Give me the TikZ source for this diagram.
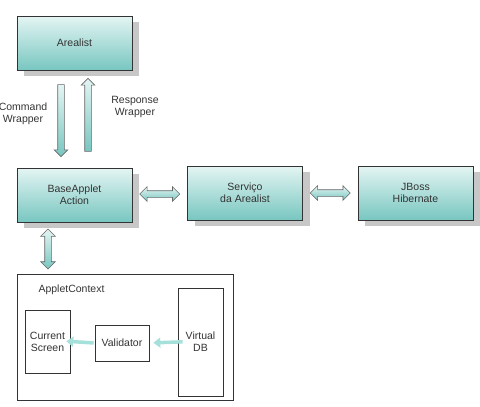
\documentclass[tikz,border=0pt]{standalone}
\usepackage{fontspec}
\setmainfont{Liberation Sans}
\usetikzlibrary{calc, shadows, shapes.arrows, arrows.meta}
\definecolor{boxtop}{HTML}{E4F5F3}
\definecolor{boxbot}{HTML}{78C6C0}
\definecolor{flowcyan}{HTML}{A6E0DB}
\definecolor{inkgray}{HTML}{333333}

\begin{document}
\begin{tikzpicture}[x=1pt, y=-1pt, font=\fontsize{10.5}{12}\selectfont, text=inkgray,
  unit/.style={draw=inkgray, line width=0.8pt, top color=boxtop, bottom color=boxbot,
    minimum width=115pt, minimum height=54pt, align=center,
    drop shadow={shadow xshift=7pt, shadow yshift=-6pt, fill=black!22, opacity=1}},
  plainbox/.style={draw=inkgray, line width=0.7pt, fill=white, align=center, inner sep=1pt},
  onearrow/.style={single arrow, draw=black!60, line width=0.6pt, top color=boxtop,
    bottom color=boxbot, inner sep=3pt, single arrow head extend=3.5pt,
    minimum height=#1},
  twoarrow/.style={double arrow, draw=black!60, line width=0.6pt, top color=boxtop,
    bottom color=boxbot, inner sep=3pt, double arrow head extend=4pt,
    minimum height=#1},
  flow/.style={flowcyan, line width=3.5pt, -{Triangle[width=10pt,length=7pt]}}]
  \useasboundingbox (0,0) rectangle (480,407);

  % top row and middle row
  \node[unit] (arealist) at (74.5,43) {Arealist};
  \node[unit] (base) at (74.5,195) {BaseApplet\\Action};
  \node[unit] (servico) at (245,193) {Serviço\\da Arealist};
  \node[unit] (jboss) at (415.5,193) {JBoss\\Hibernate};

  % wrappers between Arealist and the action
  \node[onearrow=72pt, shape border rotate=270] (cmd) at (61,119) {};
  \node[onearrow=73pt, shape border rotate=90] (resp) at (88,116.5) {};
  \node[align=center] at (23,114) {Command\\Wrapper};
  \node[align=center] at (135,107) {Response\\Wrapper};

  \node[twoarrow=40pt] at ($(base.east)!0.5!(servico.west)$) {};
  \node[twoarrow=40pt] at ($(servico.east)!0.5!(jboss.west)$) {};
  \node[twoarrow=40pt, shape border rotate=90] at (48,249) {};

  % applet context
  \node[draw=inkgray, line width=0.7pt, minimum width=216pt, minimum height=126pt] (context) at (125,337) {};
  \node[anchor=west] at (35,290) {AppletContext};
  \node[plainbox, minimum width=45pt, minimum height=63pt] (screen) at (47.5,341.5) {Current\\Screen};
  \node[plainbox, minimum width=54pt, minimum height=36pt] (validator) at (122,343) {Validator};
  \node[plainbox, minimum width=45pt, minimum height=108pt] (vdb) at (200.5,342) {Virtual\\DB};

  \draw[flow, shorten <=-5pt, shorten >=4pt] (vdb.west) -- (validator.east);
  \draw[flow, shorten <=1pt, shorten >=-4pt] (validator.west) -- (screen.east);
\end{tikzpicture}
\end{document}
